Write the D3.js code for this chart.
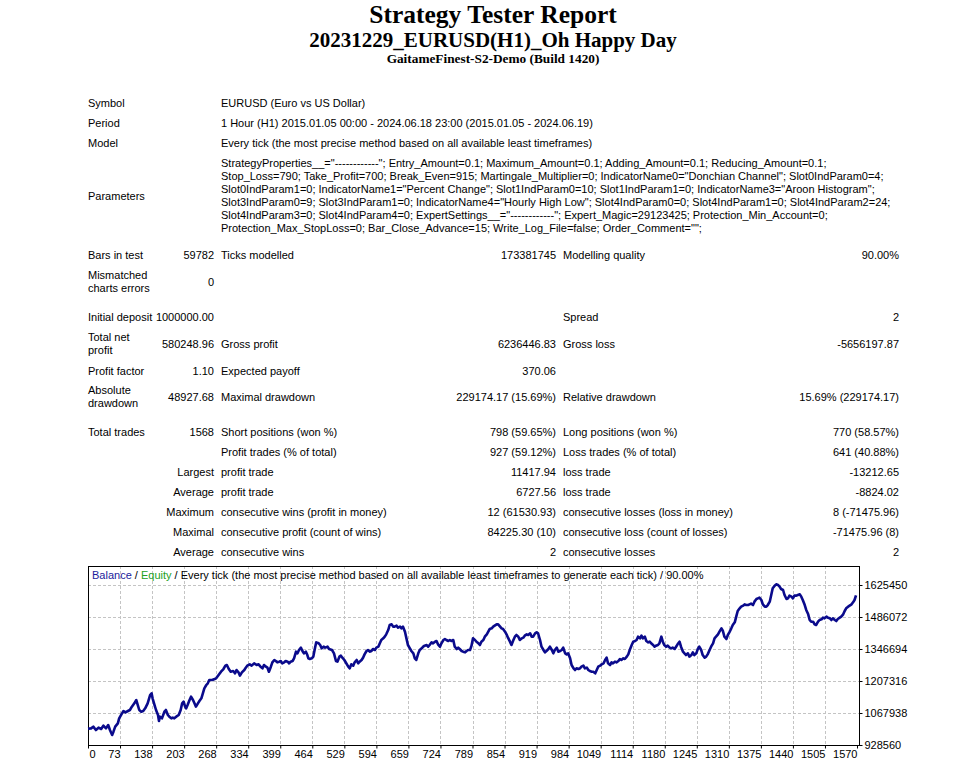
<!DOCTYPE html>
<html>
<head>
<meta charset="utf-8">
<script src="https://cdnjs.cloudflare.com/ajax/libs/d3/7.8.5/d3.min.js"></script>
<style>
  html, body { margin: 0; padding: 0; background: #fff; }
  svg text { font-family: "Liberation Sans", Arial, sans-serif; font-size: 11px; fill: #000; }
  .title { font-family: "Liberation Serif", "Times New Roman", serif; font-weight: bold; }
  .grid line { stroke: #c4c4c4; stroke-dasharray: 3,2; shape-rendering: crispEdges; }
</style>
</head>
<body>
<script>
// ---- report texts ----
var titles = ["Strategy Tester Report", "20231229_EURUSD(H1)_Oh Happy Day", "GaitameFinest-S2-Demo (Build 1420)"];

var infoLabels = ["Symbol", "Period", "Model"];
var infoValues = [
	"EURUSD (Euro vs US Dollar)",
	"1 Hour (H1) 2015.01.05 00:00 - 2024.06.18 23:00 (2015.01.05 - 2024.06.19)",
	"Every tick (the most precise method based on all available least timeframes)"
];

var paramLines = [
	'StrategyProperties__="------------"; Entry_Amount=0.1; Maximum_Amount=0.1; Adding_Amount=0.1; Reducing_Amount=0.1;',
	'Stop_Loss=790; Take_Profit=700; Break_Even=915; Martingale_Multiplier=0; IndicatorName0="Donchian Channel"; Slot0IndParam0=4;',
	'Slot0IndParam1=0; IndicatorName1="Percent Change"; Slot1IndParam0=10; Slot1IndParam1=0; IndicatorName3="Aroon Histogram";',
	'Slot3IndParam0=9; Slot3IndParam1=0; IndicatorName4="Hourly High Low"; Slot4IndParam0=0; Slot4IndParam1=0; Slot4IndParam2=24;',
	'Slot4IndParam3=0; Slot4IndParam4=0; ExpertSettings__="------------"; Expert_Magic=29123425; Protection_Min_Account=0;',
	'Protection_Max_StopLoss=0; Bar_Close_Advance=15; Write_Log_File=false; Order_Comment="";'
];

// six cells per row: label, value, label, value, label, value ("|" = line break)
var statRows = [
	["Bars in test", "59782", "Ticks modelled", "173381745", "Modelling quality", "90.00%"],
	["Mismatched|charts errors", "0", null, null, null, null],
	["Initial deposit", "1000000.00", null, null, "Spread", "2"],
	["Total net|profit", "580248.96", "Gross profit", "6236446.83", "Gross loss", "-5656197.87"],
	["Profit factor", "1.10", "Expected payoff", "370.06", null, null],
	["Absolute|drawdown", "48927.68", "Maximal drawdown", "229174.17 (15.69%)", "Relative drawdown", "15.69% (229174.17)"],
	["Total trades", "1568", "Short positions (won %)", "798 (59.65%)", "Long positions (won %)", "770 (58.57%)"],
	[null, null, "Profit trades (% of total)", "927 (59.12%)", "Loss trades (% of total)", "641 (40.88%)"],
	[null, "Largest", "profit trade", "11417.94", "loss trade", "-13212.65"],
	[null, "Average", "profit trade", "6727.56", "loss trade", "-8824.02"],
	[null, "Maximum", "consecutive wins (profit in money)", "12 (61530.93)", "consecutive losses (loss in money)", "8 (-71475.96)"],
	[null, "Maximal", "consecutive profit (count of wins)", "84225.30 (10)", "consecutive loss (count of losses)", "-71475.96 (8)"],
	[null, "Average", "consecutive wins", "2", "consecutive losses", "2"]
];

// ---- chart data ----
var xTickLabels = [0, 73, 138, 203, 268, 334, 399, 464, 529, 594, 659, 724, 789, 854, 919, 984, 1049, 1114, 1180, 1245, 1310, 1375, 1440, 1505, 1570];
var yTickLabels = [928560, 1067938, 1207316, 1346694, 1486072, 1625450];

var trades = [
	0, 7, 12, 18, 24, 30, 35, 41, 46, 50, 55, 58, 62, 68, 71, 77, 80, 84, 89, 93,
	97, 102, 106, 109, 112, 116, 120, 124, 129, 134, 137, 139, 143, 146, 150, 152, 154, 158, 163, 166,
	170, 173, 177, 180, 183, 187, 192, 196, 199, 202, 205, 207, 210, 214, 217, 221, 224, 227, 231, 234,
	238, 241, 244, 248, 251, 254, 260, 265, 268, 273, 278, 283, 287, 290, 294, 298, 303, 307, 310, 314,
	317, 321, 326, 329, 332, 337, 341, 346, 351, 355, 359, 363, 366, 370, 373, 376, 380, 383, 387, 390,
	393, 397, 400, 403, 407, 410, 414, 417, 420, 424, 427, 431, 434, 437, 441, 444, 447, 451, 454, 456,
	459, 463, 466, 470, 472, 477, 480, 483, 487, 490, 495, 498, 504, 508, 512, 515, 519, 522, 525, 529,
	537, 540, 543, 547, 550, 554, 557, 560, 564, 567, 570, 574, 577, 581, 584, 587, 591, 594, 598, 601,
	604, 608, 611, 614, 618, 621, 625, 628, 631, 635, 638, 642, 645, 648, 652, 655, 658, 662, 665, 669,
	672, 675, 679, 682, 686, 689, 692, 696, 699, 702, 706, 709, 713, 716, 719, 723, 726, 730, 733, 736,
	740, 743, 746, 750, 753, 757, 760, 763, 767, 770, 774, 777, 780, 784, 787, 790, 794, 797, 801, 804,
	807, 811, 814, 818, 821, 824, 828, 831, 834, 838, 841, 845, 848, 851, 855, 858, 861, 865, 868, 872,
	875, 878, 882, 885, 889, 892, 895, 899, 902, 906, 909, 912, 916, 919, 922, 926, 929, 933, 936, 939,
	943, 946, 950, 953, 956, 960, 963, 967, 970, 973, 977, 980, 983, 987, 990, 994, 997, 1000, 1004, 1007,
	1010, 1014, 1017, 1021, 1024, 1027, 1031, 1034, 1038, 1041, 1044, 1048, 1051, 1055, 1058, 1061, 1064, 1068, 1071, 1074,
	1078, 1081, 1085, 1088, 1091, 1095, 1098, 1102, 1105, 1108, 1112, 1115, 1119, 1122, 1125, 1129, 1132, 1135, 1139, 1142,
	1146, 1149, 1152, 1156, 1159, 1162, 1166, 1169, 1173, 1176, 1179, 1183, 1186, 1190, 1193, 1196, 1200, 1203, 1206, 1210,
	1213, 1217, 1220, 1223, 1227, 1230, 1234, 1237, 1240, 1244, 1247, 1250, 1254, 1257, 1261, 1264, 1267, 1271, 1274, 1278,
	1281, 1284, 1288, 1291, 1295, 1298, 1301, 1305, 1308, 1311, 1315, 1318, 1322, 1325, 1328, 1332, 1335, 1339, 1342, 1345,
	1349, 1352, 1355, 1359, 1362, 1366, 1369, 1372, 1376, 1379, 1383, 1386, 1389, 1393, 1396, 1399, 1403, 1406, 1410, 1413,
	1416, 1420, 1423, 1427, 1430, 1433, 1437, 1440, 1443, 1447, 1450, 1454, 1457, 1460, 1464, 1467, 1471, 1474, 1477, 1481,
	1484, 1487, 1491, 1494, 1498, 1501, 1504, 1508, 1511, 1515, 1518, 1521, 1525, 1528, 1531, 1535, 1538, 1542, 1545, 1548,
	1552, 1555, 1559, 1562, 1565, 1568
];

var balance = [
	1000000, 1001100, 1008400, 993800, 1004000, 998200, 1012700, 1001100, 1015600, 993800, 972100, 986600, 1008400, 1022900, 1044700, 1066400, 1076600, 1070800, 1076600, 1081000,
	1095500, 1110000, 1124500, 1102700, 1081000, 1073700, 1076600, 1088200, 1110000, 1146300, 1153600, 1131800, 1102700, 1081000, 1059200, 1033000, 1051900, 1044700, 1073700, 1081000,
	1059200, 1051900, 1044700, 1047600, 1044700, 1051900, 1059200, 1081000, 1110000, 1117300, 1095500, 1088200, 1102700, 1124500, 1139000, 1124500, 1110000, 1095500, 1110000, 1120100,
	1131800, 1153600, 1175300, 1189900, 1197100, 1211600, 1211600, 1216000, 1218900, 1233400, 1247900, 1259500, 1274100, 1277000, 1259500, 1247900, 1250800, 1240700, 1255200, 1245000,
	1230500, 1245000, 1255200, 1265400, 1274100, 1279900, 1274100, 1284200, 1277000, 1279900, 1269700, 1262500, 1277000, 1269700, 1265400, 1247900, 1269700, 1288600, 1298800, 1294400,
	1288600, 1291500, 1294400, 1284200, 1288600, 1294400, 1291500, 1284200, 1291500, 1294400, 1306000, 1335100, 1327800, 1342300, 1352500, 1338000, 1327800, 1335100, 1320500, 1306000,
	1303100, 1306000, 1313300, 1356800, 1375700, 1371400, 1364100, 1349600, 1356800, 1352500, 1356800, 1346700, 1342300, 1327800, 1294400, 1291500, 1313300, 1317600, 1308900, 1298800,
	1269700, 1262500, 1279900, 1274100, 1288600, 1298800, 1284200, 1291500, 1298800, 1308900, 1323400, 1338000, 1342300, 1335100, 1338000, 1346700, 1342300, 1352500, 1356800, 1371400,
	1385900, 1393100, 1400400, 1410600, 1429400, 1451200, 1454100, 1444000, 1444000, 1448300, 1439600, 1444000, 1436700, 1444000, 1422200, 1393100, 1364100, 1349600, 1338000, 1327800,
	1306000, 1298800, 1327800, 1342300, 1349600, 1356800, 1361200, 1364100, 1356800, 1364100, 1375700, 1371400, 1378600, 1381500, 1367000, 1356800, 1371400, 1385900, 1390200, 1385900,
	1381500, 1385900, 1381500, 1385900, 1356800, 1346700, 1352500, 1346700, 1338000, 1335100, 1332100, 1338000, 1342300, 1342300, 1361200, 1393100, 1385900, 1378600, 1371400, 1364100,
	1378600, 1385900, 1400400, 1410600, 1422200, 1433800, 1436700, 1444000, 1448300, 1454100, 1454100, 1444000, 1436700, 1433800, 1422200, 1410600, 1396000, 1378600, 1364100, 1385900,
	1400400, 1407700, 1400400, 1385900, 1393100, 1396000, 1404800, 1410600, 1407700, 1414900, 1400400, 1400400, 1414900, 1419300, 1414900, 1385900, 1356800, 1342300, 1332100, 1338000,
	1346700, 1356800, 1342300, 1327800, 1342300, 1352500, 1335100, 1338000, 1342300, 1352500, 1327800, 1323400, 1327800, 1306000, 1277000, 1262500, 1255200, 1262500, 1259500, 1262500,
	1269700, 1274100, 1262500, 1265400, 1255200, 1250800, 1247900, 1247900, 1240700, 1255200, 1269700, 1274100, 1279900, 1284200, 1298800, 1308900, 1284200, 1277000, 1288600, 1284200,
	1291500, 1288600, 1294400, 1303100, 1298800, 1306000, 1303100, 1313300, 1323400, 1342300, 1364100, 1378600, 1381500, 1385900, 1400400, 1393100, 1404800, 1393100, 1400400, 1381500,
	1375700, 1378600, 1371400, 1364100, 1356800, 1361200, 1364100, 1371400, 1400400, 1378600, 1364100, 1356800, 1361200, 1352500, 1349600, 1352500, 1346700, 1356800, 1367000, 1378600,
	1356800, 1335100, 1327800, 1320500, 1327800, 1313300, 1320500, 1332100, 1320500, 1327800, 1346700, 1356800, 1342300, 1320500, 1308900, 1313300, 1323400, 1342300, 1356800, 1371400,
	1393100, 1400400, 1410600, 1422200, 1436700, 1425100, 1400400, 1390200, 1407700, 1419300, 1436700, 1451200, 1462800, 1487500, 1512200, 1523800, 1531100, 1535400, 1541200, 1538300,
	1538300, 1541200, 1544100, 1538300, 1552900, 1564300, 1567400, 1570300, 1560100, 1541200, 1531100, 1531100, 1538300, 1552900, 1581900, 1610900, 1622500, 1628300, 1625400, 1618200,
	1608000, 1603700, 1581900, 1564400, 1567400, 1579000, 1574600, 1567400, 1579000, 1579000, 1581900, 1584800, 1574600, 1560100, 1538300, 1516600, 1497700, 1473000, 1465700, 1465700,
	1454100, 1451200, 1465700, 1473000, 1475900, 1483100, 1480300, 1487500, 1483100, 1480300, 1473000, 1480300, 1473000, 1468600, 1477300, 1483100, 1487500, 1497700, 1512200, 1523800,
	1531100, 1535400, 1541200, 1549900, 1560100, 1580249
];

// ---- page ----
var W = 968, H = 761;
var svg = d3.select("body").append("svg").attr("width", W).attr("height", H);

var centerX = 493;
var titleSizes = [25.5, 21, 13.3];
var titleY = [23, 47, 63];
svg.selectAll("text.title").data(titles).enter().append("text")
	.attr("class", "title")
	.attr("x", centerX)
	.attr("y", function(d, i) { return titleY[i]; })
	.attr("text-anchor", "middle")
	.style("font-size", function(d, i) { return titleSizes[i] + "px"; })
	.text(function(d) { return d; });

// table columns
var col = {l1: 88, v1: 214, l2: 221, v2: 556, l3: 563, v3: 899};
var cellX = [col.l1, col.v1, col.l2, col.v2, col.l3, col.v3];
var cellAnchor = ["start", "end", "start", "end", "start", "end"];
var lineH = 13;

function putText(x, y, anchor, str) {
	var parts = str.split("|");
	var y0 = y - (parts.length - 1) * lineH / 2;
	parts.forEach(function(p, i) {
		svg.append("text")
			.attr("x", x)
			.attr("y", y0 + i * lineH)
			.attr("dy", "0.35em")
			.attr("text-anchor", anchor)
			.text(p);
	});
}

var infoY = [103, 123, 143];
infoLabels.forEach(function(d, i) {
	putText(col.l1, infoY[i], "start", d);
	putText(col.l2, infoY[i], "start", infoValues[i]);
});

putText(col.l1, 196, "start", "Parameters");
paramLines.forEach(function(d, i) {
	putText(col.l2, 163 + i * lineH, "start", d);
});

var rowY = [255, 282, 317, 344, 371, 397, 432, 452, 472, 492, 512, 532, 552];
statRows.forEach(function(row, r) {
	row.forEach(function(cell, c) {
		if (cell === null) return;
		// "Largest", "Average"... sit in the value column, right-aligned
		putText(cellX[c], rowY[r], cellAnchor[c], cell);
	});
});

// ---- chart ----
var plot = {left: 88, right: 859, top: 566, bottom: 745};
var tickStep = (857 - plot.left) / (xTickLabels.length - 1);

var x = d3.scaleLinear()
	.domain(xTickLabels)
	.range(xTickLabels.map(function(d, i) { return plot.left + i * tickStep; }));
var y = d3.scaleLinear()
	.domain([yTickLabels[0], yTickLabels[0] + (plot.bottom - plot.top) / 32 * (yTickLabels[1] - yTickLabels[0])])
	.range([plot.bottom, plot.top]);

var grid = svg.append("g").attr("class", "grid");
grid.selectAll("line.v").data(xTickLabels.slice(1, -1)).enter().append("line")
	.attr("x1", function(d) { return Math.round(x(d)) + 0.5; })
	.attr("x2", function(d) { return Math.round(x(d)) + 0.5; })
	.attr("y1", plot.top).attr("y2", plot.bottom);
grid.selectAll("line.h").data(yTickLabels.slice(1)).enter().append("line")
	.attr("y1", function(d) { return Math.round(y(d)) + 0.5; })
	.attr("y2", function(d) { return Math.round(y(d)) + 0.5; })
	.attr("x1", plot.left).attr("x2", plot.right);

// frame
svg.append("rect")
	.attr("x", plot.left + 0.5).attr("y", plot.top + 0.5)
	.attr("width", plot.right - plot.left).attr("height", plot.bottom - plot.top)
	.attr("fill", "none").attr("stroke", "#000").attr("shape-rendering", "crispEdges");

// y axis on the right
var yAxis = d3.axisRight(y).tickValues(yTickLabels).tickSize(3).tickPadding(2)
	.tickFormat(function(d) { return d; });
var gy = svg.append("g").attr("transform", "translate(" + (plot.right + 0.5) + ",0)").call(yAxis);
gy.select(".domain").remove();
gy.selectAll("text").style("font-size", "11px").attr("fill", "#000");

// x axis below, labels end at the tick
var xAxis = d3.axisBottom(x).tickValues(xTickLabels).tickSize(3).tickPadding(2)
	.tickFormat(function(d) { return d; });
var gx = svg.append("g").attr("transform", "translate(0," + (plot.bottom + 0.5) + ")").call(xAxis);
gx.select(".domain").remove();
gx.selectAll("text")
	.style("font-size", "11px").attr("fill", "#000")
	.attr("text-anchor", function(d) { return d === 0 ? "start" : "end"; })
	.attr("dx", function(d) { return d === 0 ? "1" : "0"; });

// balance line
var points = trades.map(function(t, i) { return {t: t, v: balance[i]}; });
var line = d3.line()
	.x(function(d) { return x(d.t); })
	.y(function(d) { return y(d.v); });
svg.append("path")
	.datum(points)
	.attr("fill", "none")
	.attr("stroke", "#0a0a8c")
	.attr("stroke-width", 2.6)
	.attr("stroke-linejoin", "round")
	.attr("d", line);

// legend
var legend = svg.append("text").attr("x", 92).attr("y", 579);
legend.append("tspan").attr("fill", "#1c1c9c").text("Balance");
legend.append("tspan").text(" / ");
legend.append("tspan").attr("fill", "#22a022").text("Equity");
legend.append("tspan").text(" / Every tick (the most precise method based on all available least timeframes to generate each tick) / 90.00%");
</script>
</body>
</html>
